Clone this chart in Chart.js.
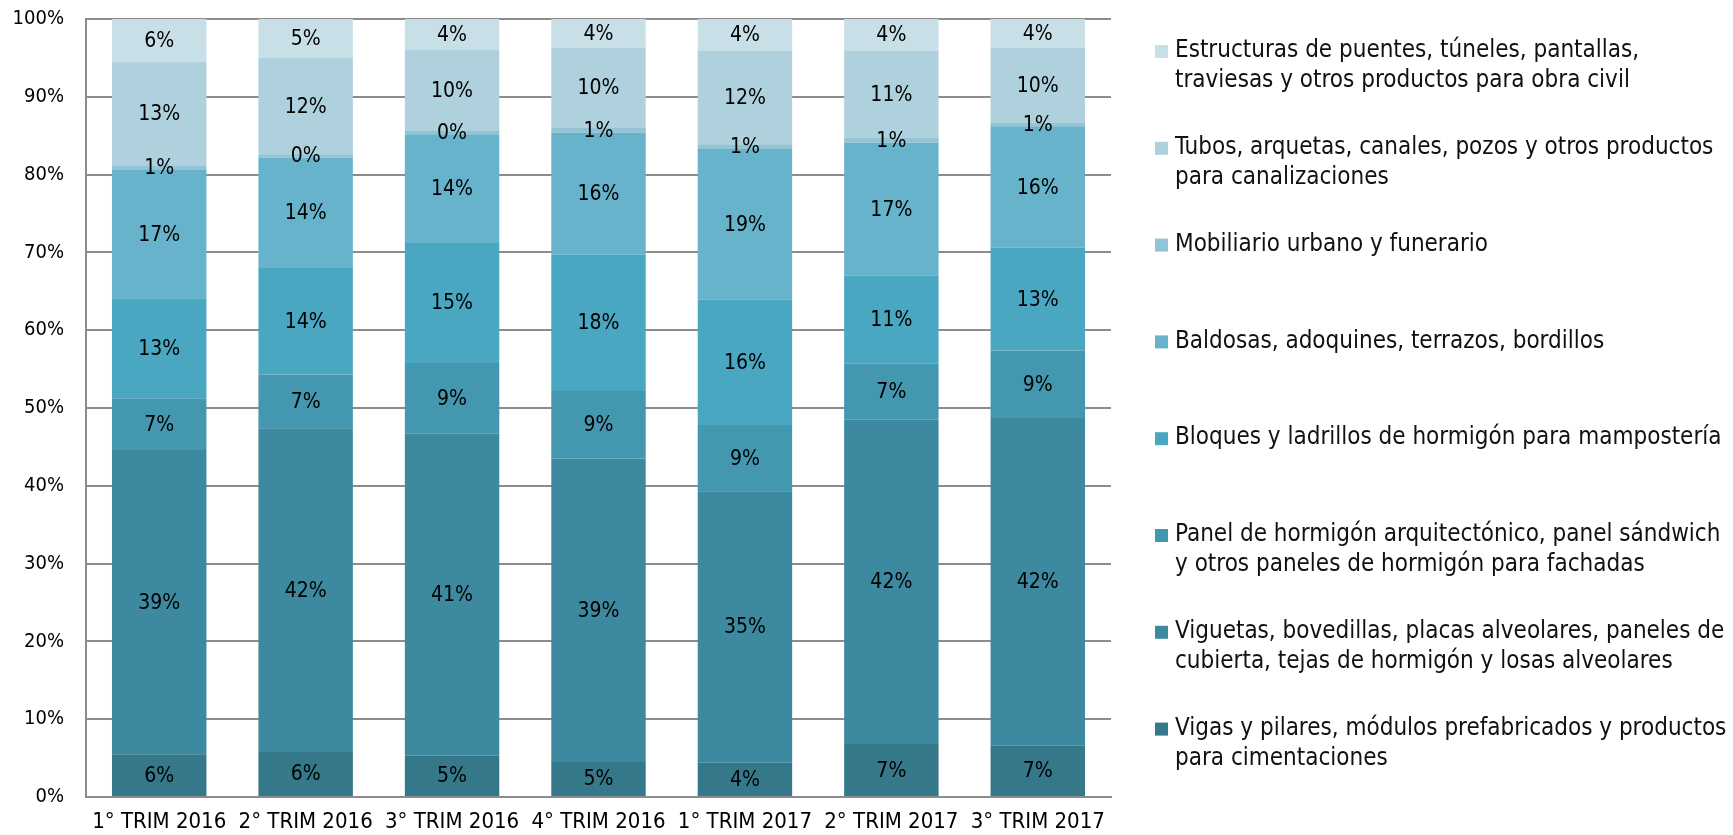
<!DOCTYPE html>
<html>
<head>
<meta charset="utf-8">
<script src="https://cdn.jsdelivr.net/npm/chart.js@4.4.0/dist/chart.umd.min.js"></script>
<style>
  html, body { margin: 0; padding: 0; background: #fff; }
</style>
</head>
<body>
<canvas id="chart" width="1733" height="835"></canvas>
<script>
const categories = ['1° TRIM 2016', '2° TRIM 2016', '3° TRIM 2016', '4° TRIM 2016', '1° TRIM 2017', '2° TRIM 2017', '3° TRIM 2017'];

// series, bottom to top of each bar (% of quarter)
const vigas       = [5.5, 5.8, 5.3, 4.5, 4.4, 6.8, 6.6];
const viguetas    = [39.1, 41.6, 41.4, 39.0, 34.9, 41.7, 42.1];
const paneles     = [6.6, 6.9, 9.1, 8.7, 8.5, 7.2, 8.7];
const bloques     = [12.9, 13.7, 15.4, 17.5, 16.1, 11.3, 13.2];
const baldosas    = [16.5, 14.2, 14.0, 15.7, 19.4, 17.1, 15.6];
const mobiliario  = [0.6, 0.4, 0.4, 0.6, 0.6, 0.6, 0.5];
const tubos       = [13.3, 12.4, 10.4, 10.3, 12.0, 11.2, 9.6];
const estructuras = [5.5, 5.0, 4.0, 3.7, 4.1, 4.1, 3.7];

const yTicks = [0, 10, 20, 30, 40, 50, 60, 70, 80, 90, 100];

const seriesNames = [
    ['Vigas y pilares, módulos prefabricados y productos', 'para cimentaciones'],
    ['Viguetas, bovedillas, placas alveolares, paneles de', 'cubierta, tejas de hormigón y losas alveolares'],
    ['Panel de hormigón arquitectónico, panel sándwich', 'y otros paneles de hormigón para fachadas'],
    ['Bloques y ladrillos de hormigón para mampostería'],
    ['Baldosas, adoquines, terrazos, bordillos'],
    ['Mobiliario urbano y funerario'],
    ['Tubos, arquetas, canales, pozos y otros productos', 'para canalizaciones'],
    ['Estructuras de puentes, túneles, pantallas,', 'traviesas y otros productos para obra civil']
];
const seriesData = [vigas, viguetas, paneles, bloques, baldosas, mobiliario, tubos, estructuras];
const seriesColors = ['#35788a', '#3d89a0', '#4398b0', '#49a7c1', '#67b3cb', '#93c4d5', '#aed1dd', '#c8dfe7'];

const FONT = '"DejaVu Sans Condensed", "DejaVu Sans", sans-serif';

// percentage text in the middle of every segment
const segmentLabels = {
    id: 'segmentLabels',
    afterDatasetsDraw(chart) {
        const ctx = chart.ctx;
        ctx.save();
        ctx.font = '21px ' + FONT;
        ctx.fillStyle = '#000';
        ctx.textAlign = 'center';
        ctx.textBaseline = 'middle';
        chart.data.datasets.forEach((ds, i) => {
            chart.getDatasetMeta(i).data.forEach((bar, j) => {
                const mid = (bar.y + bar.base) / 2;
                ctx.fillText(Math.round(ds.data[j]) + '%', bar.x, mid + 1);
            });
        });
        ctx.restore();
    }
};

// legend on the right, top entry = top segment
const sideLegend = {
    id: 'sideLegend',
    afterDraw(chart) {
        const ctx = chart.ctx;
        ctx.save();
        ctx.font = '24px ' + FONT;
        ctx.textBaseline = 'middle';
        ctx.textAlign = 'left';
        for (let k = 0; k < seriesNames.length; k++) {
            const idx = seriesNames.length - 1 - k;
            const y0 = 51 + k * 96.8;
            ctx.fillStyle = seriesColors[idx];
            ctx.fillRect(1155, y0 - 6, 13, 13);
            ctx.fillStyle = '#111';
            seriesNames[idx].forEach((line, n) => {
                ctx.fillText(line, 1175, y0 + n * 30);
            });
        }
        ctx.restore();
    }
};

new Chart(document.getElementById('chart').getContext('2d'), {
    type: 'bar',
    data: {
        labels: categories,
        datasets: seriesData.map((d, i) => ({
            label: seriesNames[i].join(' '),
            data: d,
            backgroundColor: seriesColors[i],
            borderWidth: 0,
            barPercentage: 0.645,
            categoryPercentage: 1.0
        }))
    },
    options: {
        responsive: false,
        animation: false,
        layout: { padding: { top: 19, right: 622, left: 0, bottom: 0 } },
        plugins: {
            legend: { display: false },
            tooltip: { enabled: false }
        },
        scales: {
            x: {
                stacked: true,
                grid: { display: false, drawTicks: false },
                border: { color: '#8c8c8c', width: 2 },
                ticks: { color: '#000', font: { family: FONT, size: 22 }, padding: 12, maxRotation: 0 },
                afterFit(scale) { scale.height = 38; }
            },
            y: {
                stacked: true,
                min: 0,
                max: 100,
                afterBuildTicks(scale) { scale.ticks = yTicks.map(v => ({ value: v })); },
                grid: { color: '#8c8c8c', lineWidth: 2, drawTicks: false },
                border: { color: '#8c8c8c', width: 2 },
                ticks: { color: '#000', font: { family: FONT, size: 20 }, padding: 22, callback: v => v + '%' },
                afterFit(scale) {
                    scale.width = 86;
                    scale.paddingTop = 0;
                    scale.paddingBottom = 0;
                }
            }
        }
    },
    plugins: [segmentLabels, sideLegend]
});
</script>
</body>
</html>
